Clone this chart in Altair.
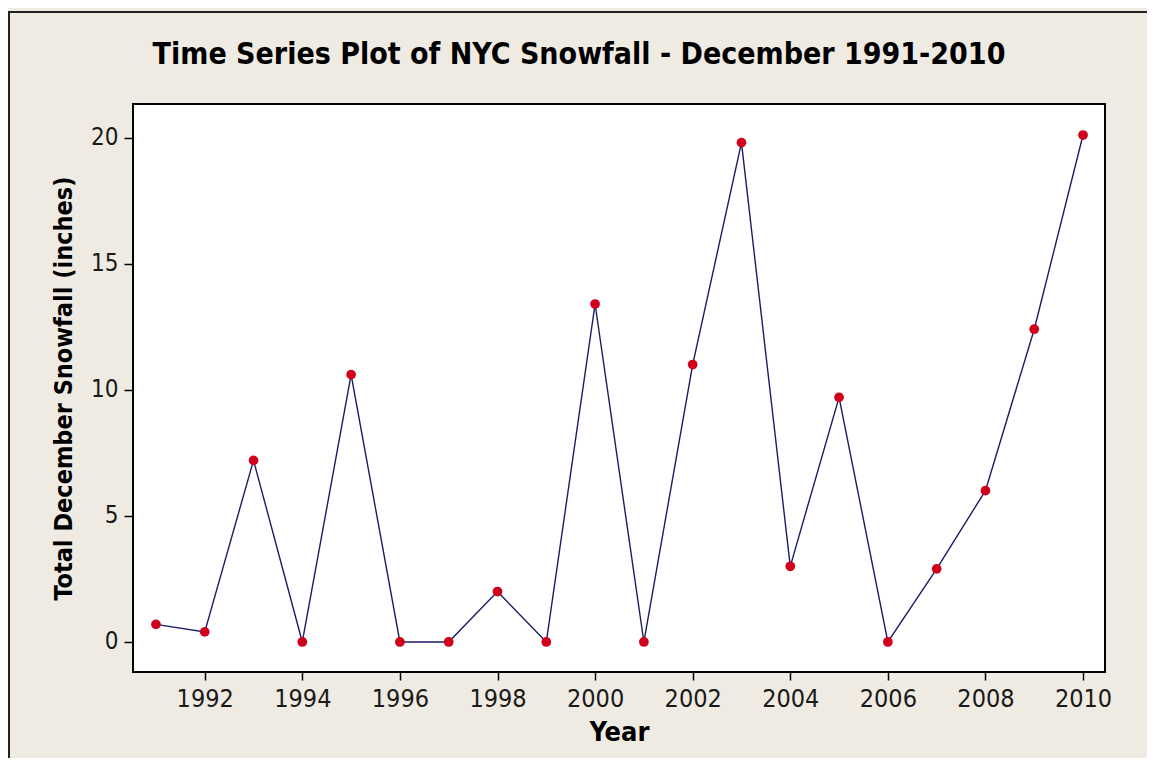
import altair as alt
import pandas as pd

years = [1991, 1992, 1993, 1994, 1995, 1996, 1997, 1998, 1999, 2000,
         2001, 2002, 2003, 2004, 2005, 2006, 2007, 2008, 2009, 2010]
snowfall = [0.7, 0.4, 7.2, 0.0, 10.6, 0.0, 0.0, 2.0, 0.0, 13.4,
            0.0, 11.0, 19.8, 3.0, 9.7, 0.0, 2.9, 6.0, 12.4, 20.1]
x_ticks = [1992, 1994, 1996, 1998, 2000, 2002, 2004, 2006, 2008, 2010]
y_ticks = [0, 5, 10, 15, 20]
title_text = ["Time Series Plot of NYC Snowfall - December 1991-2010"]

df = pd.DataFrame({"Year": years, "Snow": snowfall})
tdf = pd.DataFrame({"t": title_text})

FONT = "Tahoma, 'DejaVu Sans Condensed', 'DejaVu Sans'"
BG = "#efebe2"

x = alt.X("Year:Q",
          scale=alt.Scale(domain=[1990.53, 2010.45], nice=False, zero=False),
          axis=alt.Axis(values=x_ticks, format="d", title="Year",
                        grid=False, domain=False, tickColor="black",
                        tickWidth=1.5, tickSize=8, labelPadding=6,
                        labelFont=FONT, labelFontSize=25, labelColor="#1a1a1a",
                        titleFont=FONT, titleFontSize=27, titleFontWeight="bold",
                        titleColor="black", titlePadding=8, labelFlush=False))
y = alt.Y("Snow:Q",
          scale=alt.Scale(domain=[-1.19, 21.33], nice=False, zero=False),
          axis=alt.Axis(values=y_ticks, format="d",
                        title="Total December Snowfall (inches)",
                        grid=False, domain=False, tickColor="black",
                        tickWidth=1.5, tickSize=9, labelPadding=6,
                        labelFont=FONT, labelFontSize=24, labelColor="#1a1a1a",
                        titleFont=FONT, titleFontSize=25, titleFontWeight="bold",
                        titleColor="black", titlePadding=14, labelFlush=False))

line = alt.Chart(df).mark_line(color="#1c1c66", strokeWidth=1.4).encode(x=x, y=y)
pts = alt.Chart(df).mark_point(filled=True, color="#d0001c", size=95, opacity=1).encode(
    x="Year:Q", y="Snow:Q")

title = alt.Chart(tdf).mark_text(
    font=FONT, fontSize=30, fontWeight="bold", color="black",
    align="center", baseline="alphabetic").encode(
    text="t:N", x=alt.value(446), y=alt.value(-40))

border_left = alt.Chart(tdf).mark_rule(color="#222", strokeWidth=2).encode(
    x=alt.value(-124), y=alt.value(-92), y2=alt.value(700))
border_top = alt.Chart(tdf).mark_rule(color="#222", strokeWidth=2).encode(
    x=alt.value(-125), x2=alt.value(1100), y=alt.value(-92))

chart = alt.layer(line, pts, title, border_left, border_top).properties(
    width=972, height=568,
    autosize=alt.AutoSizeParams(type="none"),
    padding={"left": 125, "top": 96, "right": 42, "bottom": 86},
    background=BG,
).configure_view(stroke="black", strokeWidth=2, fill="white")

chart.save("out.html", embed_options={"renderer": "svg", "actions": False})
